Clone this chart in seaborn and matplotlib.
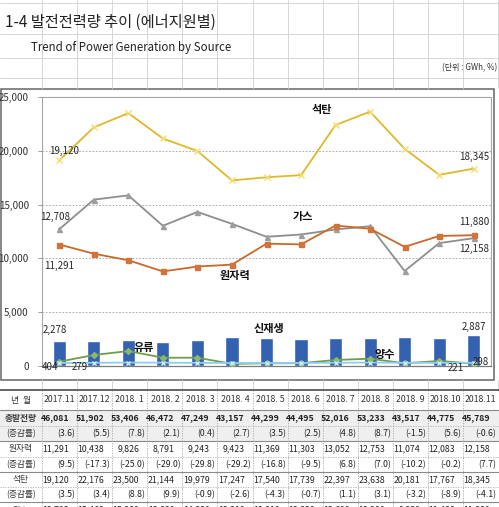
import numpy as np
import pandas as pd
import matplotlib
matplotlib.use("Agg")
import matplotlib.pyplot as plt
from matplotlib.patches import Rectangle
import seaborn as sns

sns.set_theme(style="white")
plt.rcParams['font.family'] = ['Noto Sans CJK KR', 'DejaVu Sans']
plt.rcParams['axes.unicode_minus'] = False

# --- DATA ---
months = ["2017.11", "2017.12", "2018. 1", "2018. 2", "2018. 3", "2018. 4", "2018. 5",
          "2018. 6", "2018. 7", "2018. 8", "2018. 9", "2018.10", "2018.11"]
coal = [19120, 22176, 23500, 21144, 19979, 17247, 17540, 17739, 22397, 23638, 20181, 17767, 18345]
nuclear = [11291, 10438, 9826, 8791, 9243, 9423, 11369, 11303, 13052, 12753, 11074, 12083, 12158]
gas = [12708, 15460, 15860, 13030, 14320, 13210, 12010, 12220, 12690, 12990, 8830, 11420, 11880]
renew = [2278, 2310, 2440, 2190, 2440, 2650, 2620, 2530, 2620, 2620, 2690, 2620, 2887]
oil = [404, 1020, 1390, 770, 770, 200, 250, 260, 560, 680, 250, 470, 221]
pumped = [279, 300, 320, 310, 290, 280, 270, 280, 300, 320, 300, 290, 298]

total = [46081, 51902, 53406, 46472, 47249, 43157, 44299, 44495, 52016, 53233, 43517, 44775, 45789]
total_rate = [3.6, 5.5, 7.8, 2.1, 0.4, 2.7, 3.5, 2.5, 4.8, 8.7, -1.5, 5.6, -0.6]
nuclear_rate = [9.5, -17.3, -25.0, -29.0, -29.8, -29.2, -16.8, -9.5, 6.8, 7.0, -10.2, -0.2, 7.7]
coal_rate = [3.5, 3.4, 8.8, 9.9, -0.9, -2.6, -4.3, -0.7, 1.1, 3.1, -3.2, -8.9, -4.1]

W, H = 499, 507
fig = plt.figure(figsize=(W / 100, H / 100), dpi=100)

# ------------------------------------------------------------------
# Spreadsheet background, titles and table (pixel coordinates)
# ------------------------------------------------------------------
bg = fig.add_axes([0, 0, 1, 1])
bg.set_xlim(0, W)
bg.set_ylim(H, 0)
bg.axis('off')

col_edges = 42 + 35.1 * np.arange(len(months) + 1)
grid_c = '#d6d6d6'
for x in col_edges:
    bg.plot([x, x], [0, 88], color=grid_c, lw=0.7)
    bg.plot([x, x], [380, 390], color=grid_c, lw=0.7)
for y in [3, 34, 58, 78]:
    bg.plot([0, W], [y, y], color=grid_c, lw=0.7)

bg.text(5, 22, "1-4 발전전력량 추이 (에너지원별)", fontsize=11, color='#222222', va='center')
bg.text(31, 47, "Trend of Power Generation by Source", fontsize=8.3, color='#222222', va='center')
bg.text(497, 68, "(단위 : GWh, %)", fontsize=5.8, color='#333333', va='center', ha='right')

# chart frame
bg.add_patch(Rectangle((0.5, 88.5), 494, 291, facecolor='white', edgecolor='#666666', lw=1.1))

# table
row_edges = [390, 410, 426, 441, 457, 472, 487, 502, 518]
bg.add_patch(Rectangle((0, 410), W, 31, facecolor='#efefef', edgecolor='none'))
solid = {390: ('#3a3a3a', 1.1), 410: ('#8a8a8a', 0.8), 441: ('#8a8a8a', 0.8),
         472: ('#8a8a8a', 0.8), 502: ('#8a8a8a', 0.8)}
for y in row_edges[:-1]:
    if y in solid:
        c, lw = solid[y]
        bg.plot([0, W], [y, y], color=c, lw=lw)
    else:
        bg.plot([0, W], [y, y], color='#b0b0b0', lw=0.6, ls=(0, (1.5, 1.5)))
for x in col_edges[:-1]:
    bg.plot([x, x], [390, H], color='#a8a8a8', lw=0.6, ls=(0, (1.5, 1.5)))


def fmt_rate(v):
    return f"({v:.1f})"


rows = [
    ("총발전량", [f"{v:,}" for v in total], True, False),
    ("(증감률)", [fmt_rate(v) for v in total_rate], False, True),
    ("원자력", [f"{v:,}" for v in nuclear], False, False),
    ("(증감률)", [fmt_rate(v) for v in nuclear_rate], False, True),
    ("석탄", [f"{v:,}" for v in coal], False, False),
    ("(증감률)", [fmt_rate(v) for v in coal_rate], False, True),
    ("가스", [f"{v:,}" for v in gas], False, False),
]

tfs = 6.3
bg.text(21, 400, "년  월", fontsize=tfs, ha='center', va='center', color='#333333')
for i, m in enumerate(months):
    bg.text((col_edges[i] + col_edges[i + 1]) / 2, 400, m, fontsize=tfs,
            ha='center', va='center', color='#333333')

for r, (label, vals, bold, is_rate) in enumerate(rows):
    yc = (row_edges[r + 1] + row_edges[r + 2]) / 2
    bg.text(21, yc, label, fontsize=tfs, ha='center', va='center', color='#3a3a3a',
            fontweight='bold' if bold else 'normal')
    for i, v in enumerate(vals):
        xr = col_edges[i + 1] - (2 if is_rate else 8)
        bg.text(xr, yc, v, fontsize=tfs, ha='right', va='center', color='#222222',
                fontweight='bold' if bold else 'normal',
                fontstyle='italic' if i == len(vals) - 1 else 'normal')

# ------------------------------------------------------------------
# Chart
# ------------------------------------------------------------------
ax = fig.add_axes([42 / W, 1 - 366 / H, 449 / W, 269 / H])
ax.patch.set_alpha(0)

df = pd.DataFrame({"month": months, "coal": coal, "nuclear": nuclear, "gas": gas,
                   "renew": renew, "oil": oil, "pumped": pumped})

sns.barplot(data=df, x="month", y="renew", color='#3461B0', width=0.38,
            saturation=1, ax=ax, zorder=2)

series = [
    ("coal", '#DDB92B', 'x', '#F3DD73', 4.0),
    ("gas", '#8E8E8E', '^', '#9E9E9E', 3.6),
    ("nuclear", '#C8692B', 's', '#D0743A', 3.6),
    ("oil", '#6E9E4C', 'D', '#8CB86A', 3.0),
    ("pumped", '#8ACFF2', 'x', '#C9ECFB', 3.0),
]
for col, c, mk, mc, ms in series:
    sns.pointplot(data=df, x="month", y=col, color=c, marker=mk, markersize=ms,
                  markeredgecolor=mc, markerfacecolor=mc, markeredgewidth=1.0,
                  linewidth=1.3, errorbar=None, ax=ax, zorder=3)

ax.set_xlim(-0.5, len(months) - 0.5)
ax.set_ylim(0, 25000)
ax.set_xticks([])
ax.set_xlabel("")
ax.set_ylabel("")
yt = [0, 5000, 10000, 15000, 20000, 25000]
ax.set_yticks(yt)
ax.set_yticklabels([f"{v:,}" for v in yt])
ax.tick_params(axis='y', left=True, length=3, width=0.7, color='#9a9a9a',
               pad=6.5, labelsize=7, labelcolor='#333333')
for v in yt[1:-1]:
    ax.axhline(v, color='#a0a0a0', lw=0.6, ls=(0, (2, 2)), zorder=1)
for s in ['left', 'top', 'right']:
    ax.spines[s].set_color('#a6a6a6')
    ax.spines[s].set_linewidth(0.8)
ax.spines['bottom'].set_color('#7a7a7a')
ax.spines['bottom'].set_linewidth(0.9)

# value labels (offsets in points from the data point)
lab_fs = 7
lab_c = '#262626'
n = len(months) - 1
labels = [
    (0, coal[0], coal[0], 3.5, 7),
    (n, coal[n], coal[n], 0, 8.5),
    (0, gas[0], gas[0], -3, 9),
    (n, gas[n], gas[n], 0, 12),
    (0, nuclear[0], nuclear[0], 0, -15.5),
    (n, nuclear[n], nuclear[n], 0, -10),
    (0, renew[0], renew[0], -3, 8.5),
    (n, renew[n], renew[n], 0, 5.5),
    (0, oil[0], oil[0], -6.5, -4),
    (0, pumped[0], pumped[0], 15, -3),
    (n, oil[n], oil[n], -13, -3.5),
    (n, pumped[n], pumped[n], 5, 0.5),
]
for i, yv, val, dx, dy in labels:
    ax.annotate(f"{val:,}", xy=(i, yv), xytext=(dx, dy), textcoords='offset points',
                ha='center', va='center', fontsize=lab_fs, color=lab_c, zorder=5)

names = [("석탄", 0.624, 0.955), ("가스", 0.581, 0.554), ("원자력", 0.430, 0.338),
         ("신재생", 0.505, 0.141), ("유류", 0.227, 0.067), ("양수", 0.764, 0.041)]
for t, fx, fy in names:
    ax.text(fx, fy, t, transform=ax.transAxes, fontsize=8, fontweight='bold',
            color='#111111', ha='center', va='center', zorder=6)

fig.savefig("out.png", dpi=100)
